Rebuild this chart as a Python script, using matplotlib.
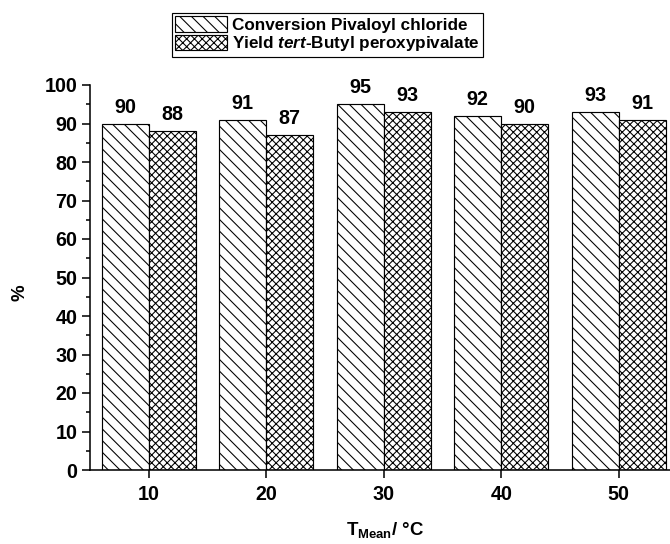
import matplotlib
matplotlib.use("Agg")
import matplotlib.pyplot as plt
from matplotlib.ticker import MultipleLocator

temps = [10, 20, 30, 40, 50]
conversion = [90, 91, 95, 92, 93]
yield_tbpp = [88, 87, 93, 90, 91]
series_labels = ["Conversion Pivaloyl chloride",
                 r"Yield $\mathit{tert}$-Butyl peroxypivalate"]

DPI = 140
plt.rcParams.update({
    "font.family": ["Liberation Sans", "DejaVu Sans"],
    "font.weight": "bold",
    "mathtext.fontset": "custom",
    "mathtext.rm": "Liberation Sans:bold",
    "mathtext.bf": "Liberation Sans:bold",
    "mathtext.it": "Liberation Sans:bold:italic",
    "mathtext.default": "bf",
    "hatch.linewidth": 0.55,
    "hatch.color": "black",
})
FS_TICK = 10.2
FS_BAR = 10.2
FS_LEG = 8.8
FS_LAB = 9.6

BS = chr(92)
HATCH_DIAG = BS * 4
HATCH_CROSS = "x" * 6

fig = plt.figure(figsize=(670 / DPI, 544 / DPI), dpi=DPI)
W, H = 670, 544
left, right, top, bottom = 90, 677.5, 85, 470
ax = fig.add_axes([left / W, 1 - bottom / H, (right - left) / W, (bottom - top) / H])

bw = 4
xs1 = [t - bw / 2 for t in temps]
xs2 = [t + bw / 2 for t in temps]
b1 = ax.bar(xs1, conversion, width=bw, facecolor="white", edgecolor="black",
            linewidth=0.6, hatch=HATCH_DIAG, label=series_labels[0])
b2 = ax.bar(xs2, yield_tbpp, width=bw, facecolor="white", edgecolor="black",
            linewidth=0.6, hatch=HATCH_CROSS, label=series_labels[1])
ax.bar_label(b1, labels=[str(v) for v in conversion], padding=3.5,
             fontsize=FS_BAR, fontweight="bold")
ax.bar_label(b2, labels=[str(v) for v in yield_tbpp], padding=3.5,
             fontsize=FS_BAR, fontweight="bold")

ax.set_xlim(5, 55)
ax.set_ylim(0, 100)
ax.set_xticks(temps)
ax.set_xticklabels([str(t) for t in temps])
ax.yaxis.set_major_locator(MultipleLocator(10))
ax.yaxis.set_minor_locator(MultipleLocator(5))

for s in ["top", "right"]:
    ax.spines[s].set_visible(False)
for s in ["left", "bottom"]:
    ax.spines[s].set_linewidth(0.8)

ax.tick_params(axis="both", which="major", direction="out", length=4.1,
               width=0.8, labelsize=FS_TICK, pad=2.5)
ax.tick_params(axis="x", which="major", pad=3.5)
ax.tick_params(axis="y", which="minor", direction="out", length=2.1, width=0.8)
for lab in ax.get_xticklabels() + ax.get_yticklabels():
    lab.set_fontweight("bold")

ax.set_xlabel(r"T$_{Mean}$/ °C", fontsize=FS_LAB, fontweight="bold")
ax.xaxis.set_label_coords((385 - left) / (right - left), -(520 - bottom) / (bottom - top))
ax.xaxis.label.set_va("top")
ax.set_ylabel("%", fontsize=FS_LAB, fontweight="bold")
ax.yaxis.set_label_coords(-(90 - 20) / (right - left), (bottom - 293) / (bottom - top))
ax.yaxis.label.set_va("center")

leg = fig.legend(handles=[b1, b2], labels=series_labels,
                 loc="upper left", bbox_to_anchor=(172 / W, 1 - 13 / H),
                 borderaxespad=0, fontsize=FS_LEG, frameon=True, fancybox=False,
                 edgecolor="black", framealpha=1, handlelength=3.0,
                 handleheight=1.0, labelspacing=0.08, handletextpad=0.3,
                 borderpad=0.2)
leg.get_frame().set_linewidth(0.6)
for t in leg.get_texts():
    t.set_fontweight("bold")

fig.savefig("out.png", dpi=DPI)
